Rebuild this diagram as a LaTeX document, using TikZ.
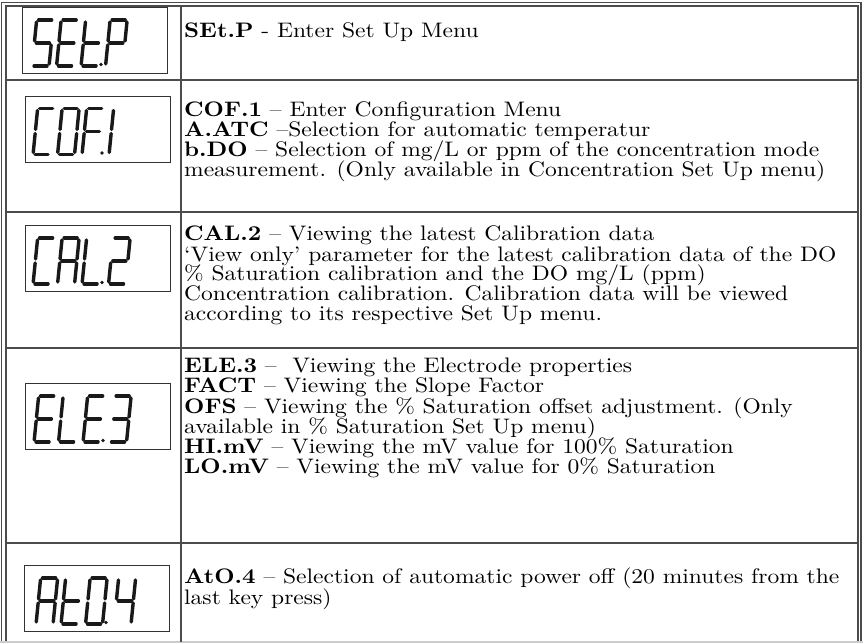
\documentclass[tikz,border=0pt]{standalone}
\usepackage{fontspec}
\setmainfont{lmroman10-regular.otf}[BoldFont=lmroman10-bold.otf, FakeStretch=1.12]
\usepackage{tikz}
\usetikzlibrary{calc}

% one seven-segment character: box, offset, segments
\newcommand{\lcdchar}[3]{%
  \begin{scope}[shift={($(#1.south west)+(#2,-8)$)}, xslant=0.1]
    \coordinate (a1) at (2,-46);  \coordinate (a2) at (15,-46);
    \coordinate (b1) at (17,-44); \coordinate (b2) at (17,-25);
    \coordinate (c1) at (17,-21); \coordinate (c2) at (17,-2);
    \coordinate (d1) at (2,0);    \coordinate (d2) at (15,0);
    \coordinate (e1) at (0,-21);  \coordinate (e2) at (0,-2);
    \coordinate (f1) at (0,-44);  \coordinate (f2) at (0,-25);
    \coordinate (g1) at (2,-23);  \coordinate (g2) at (15,-23);
    \foreach \s in {#3} \draw[segment] (\s1) -- (\s2);
  \end{scope}}
% decimal point
\newcommand{\lcddot}[2]{\fill[black!90] ($(#1.south west)+(#2,-9.5)$) circle (1.9);}
% text of the right column
\newcommand{\descfont}{\fontsize{21}{20.2}\selectfont\lineskiplimit=-30pt\relax}

\begin{document}
\begin{tikzpicture}[x=1pt, y=-1pt,
  rule/.style={black!70, line width=1.2pt},
  lcdbox/.style={draw=black!80, line width=0.9pt, minimum width=145pt, minimum height=66pt, inner sep=0},
  segment/.style={black!90, line width=3.4pt, line cap=round},
  desc/.style={anchor=north west, align=left, inner sep=0, font=\descfont}]
\useasboundingbox (0,0) rectangle (863,643);

% Frame
\draw[rule] (1.5,642) -- (1.5,2.5) -- (861,2.5) -- (861,642);
\draw[rule] (6,642) -- (6,6) -- (858,6) -- (858,642);
\draw[black!20, line width=1.2pt] (0,642) -- (863,642);

% Column and rows
\draw[rule] (181,6) -- (181,642);
\foreach \y in {80,212,348,543}
  \draw[rule] (6,\y) -- (858,\y);

% Displays
\node[lcdbox] (lcdsetp) at (95,40.5) {};
\lcdchar{lcdsetp}{10}{a,f,g,c,d}
\lcdchar{lcdsetp}{34.5}{a,f,g,e,d}
\lcdchar{lcdsetp}{59}{f,g,e,d}
\lcddot{lcdsetp}{79}
\lcdchar{lcdsetp}{83.5}{a,b,f,g,e}

\node[lcdbox] (lcdcof) at (98,129) {};
\lcdchar{lcdcof}{8}{a,f,e,d}
\lcdchar{lcdcof}{32.5}{a,b,c,d,e,f}
\lcdchar{lcdcof}{57}{a,f,g,e}
\lcddot{lcdcof}{77}
\lcdchar{lcdcof}{84}{e,f}

\node[lcdbox] (lcdcal) at (98,258.5) {};
\lcdchar{lcdcal}{8}{a,f,e,d}
\lcdchar{lcdcal}{32.5}{a,b,c,e,f,g}
\lcdchar{lcdcal}{57}{f,e,d}
\lcddot{lcdcal}{77}
\lcdchar{lcdcal}{83.5}{a,b,g,e,d}

\node[lcdbox] (lcdele) at (98,416.5) {};
\lcdchar{lcdele}{9}{a,f,g,e,d}
\lcdchar{lcdele}{33.5}{f,e,d}
\lcdchar{lcdele}{58}{a,f,g,e,d}
\lcddot{lcdele}{78}
\lcdchar{lcdele}{84.5}{a,b,g,c,d}

\node[lcdbox] (lcdato) at (97,598.5) {};
\lcdchar{lcdato}{12}{a,b,c,e,f,g}
\lcdchar{lcdato}{37}{f,g,e,d}
\lcdchar{lcdato}{61.5}{a,b,c,d,e,f}
\lcddot{lcdato}{82}
\lcdchar{lcdato}{90}{f,g,b,c}

% Descriptions
\node[desc] (txtsetp) at (184,22) {\textbf{SEt.P} - Enter Set Up Menu};
\node[desc] (txtcof) at (184,101) {\textbf{COF.1} – Enter Configuration Menu\\
  \textbf{A.ATC} –Selection for automatic temperatur\\
  \textbf{b.DO} – Selection of mg/L or ppm of the concentration mode\\
  measurement. (Only available in Concentration Set Up menu)};
\node[desc] (txtcal) at (184,225) {\textbf{CAL.2} – Viewing the latest Calibration data\\[0.8pt]
  ‘View only’ parameter for the latest calibration data of the DO\\[-0.5pt]
  \% Saturation calibration and the DO mg/L (ppm)\\[-0.5pt]
  Concentration calibration. Calibration data will be viewed\\[-0.5pt]
  according to its respective Set Up menu.};
\node[desc] (txtele) at (184,358) {\textbf{ELE.3} –\ \ Viewing the Electrode properties\\
  \textbf{FACT} – Viewing the Slope Factor\\
  \textbf{OFS} – Viewing the \% Saturation offset adjustment. (Only\\
  available in \% Saturation Set Up menu)\\
  \textbf{HI.mV} – Viewing the mV value for 100\% Saturation\\
  \textbf{LO.mV} – Viewing the mV value for 0\% Saturation};
\node[desc] (txtato) at (184,568) {\textbf{AtO.4} – Selection of automatic power off (20 minutes from the\\
  last key press)};
\end{tikzpicture}
\end{document}
